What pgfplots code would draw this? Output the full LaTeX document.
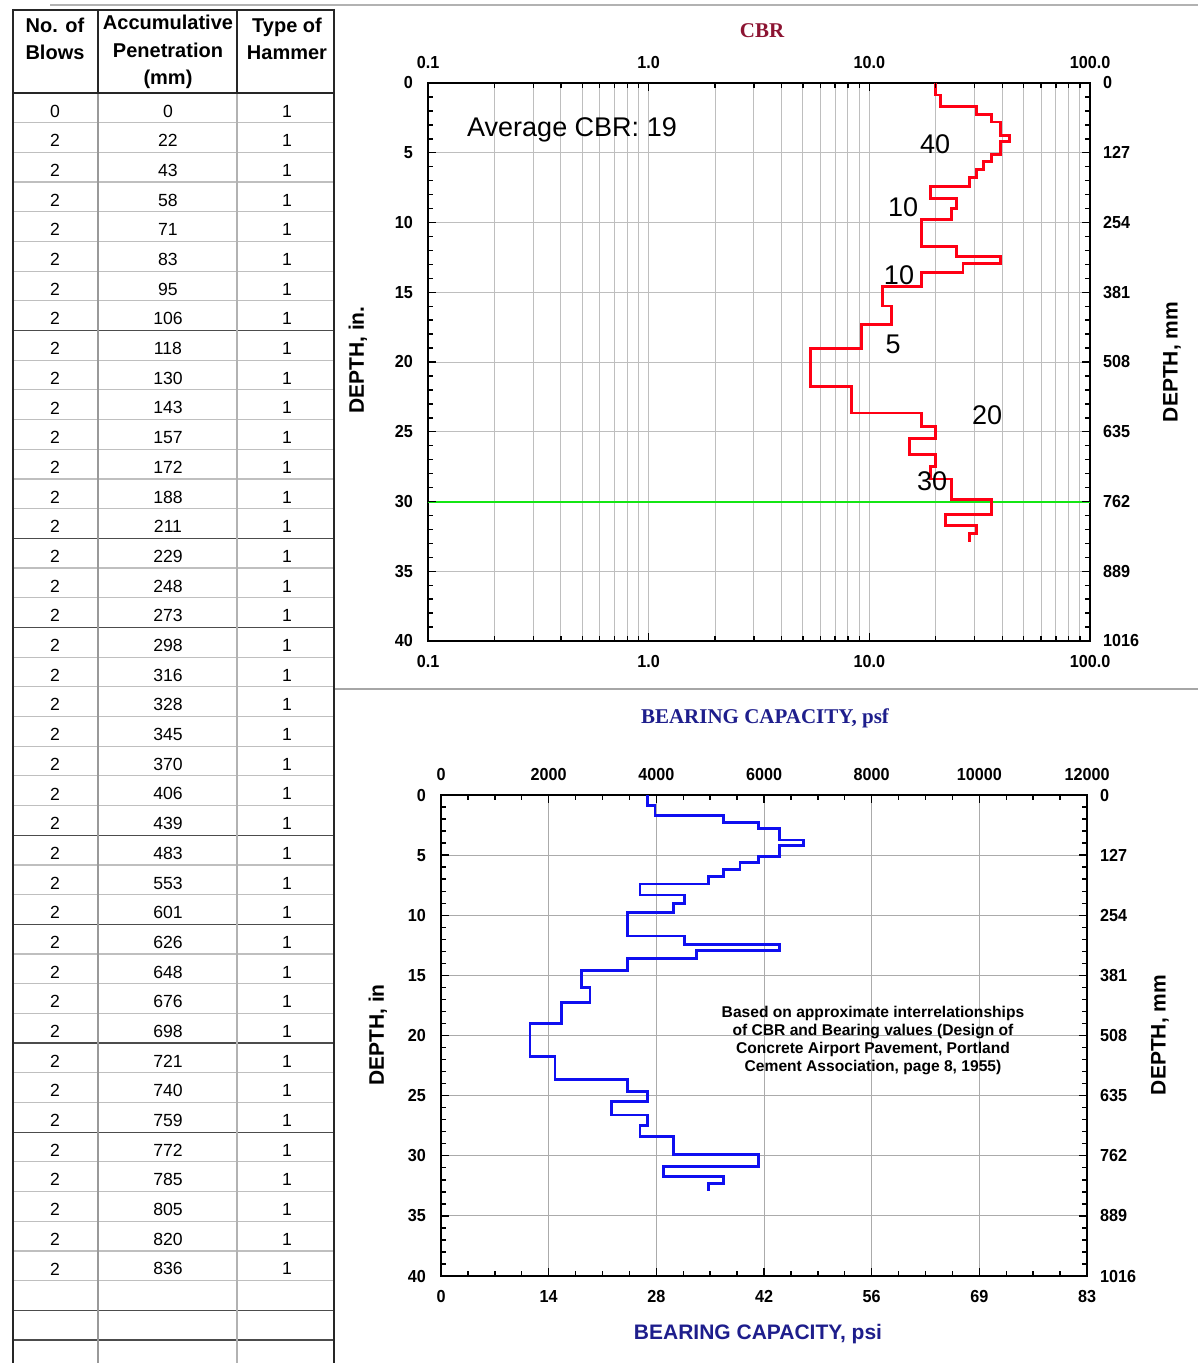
\documentclass[border=0pt]{standalone}
\usepackage{pgfplots}
\pgfplotsset{compat=1.18}
\usepackage{fontspec}
\setmainfont{Liberation Sans}
\newfontfamily\tickfont[FakeStretch=0.93]{Liberation Sans}
\newfontfamily\titleserif{Liberation Serif}
\definecolor{cbrtitle}{RGB}{140,20,50}
\definecolor{navy}{RGB}{30,30,140}
\definecolor{gridgray}{RGB}{190,190,190}
\definecolor{cbrred}{RGB}{255,0,20}
\definecolor{bcblue}{RGB}{15,15,240}
\definecolor{lgreen}{RGB}{20,230,20}
\pgfplotsset{
  depthaxis/.style={scale only axis, anchor=north west, y dir=reverse,
    ymin=0, ymax=40, ytick={0,5,...,40},
    axis line style={line width=1.4pt},
    tick style={black, line width=0.7pt},
    major tick length=4pt, minor tick length=2.5pt,
    tick label style={font=\tickfont\bfseries\fontsize{8.7}{9}\selectfont},
    scaled ticks=false},
  lowleft/.style={xticklabel pos=lower, yticklabel pos=left,
    xticklabel style={yshift=-3.5pt}, yticklabel style={xshift=-4pt}},
  upright/.style={xticklabel pos=upper, yticklabel pos=right,
    xticklabel style={yshift=3.5pt}, yticklabel style={xshift=3pt}},
}
\begin{document}
\begin{tikzpicture}
\useasboundingbox (0,0) rectangle (599pt,-681.5pt);

% ---------------- CBR chart ----------------
\begin{axis}[depthaxis, lowleft, at={(214pt,-41.5pt)}, width=331pt, height=279pt,
  xmode=log, xmin=0.1, xmax=100, xtick={0.1,1,10,100},
  xticklabels={0.1,1.0,10.0,100.0},
  yticklabels={0,5,10,15,20,25,30,35,40}, minor y tick num=4,
  xmajorgrids, xminorgrids, ymajorgrids,
  major grid style={gridgray, line width=0.5pt},
  minor grid style={gridgray, line width=0.5pt}]
\addplot[lgreen, line width=1pt] coordinates {(0.1,30) (100,30)};
\addplot[cbrred, line width=1.4pt] coordinates {
(19.9,0) (19.9,0.866) (21.0,0.866) (21.0,1.693) (30.6,1.693) (30.6,2.283) (35.9,2.283) (35.9,2.795) (39.3,2.795) (39.3,3.740) (43.3,3.740) (43.3,4.173) (39.3,4.173) (39.3,5.118) (35.9,5.118) (35.9,5.630) (33.0,5.630) (33.0,6.181) (30.6,6.181) (30.6,6.772) (28.4,6.772) (28.4,7.402) (18.9,7.402) (18.9,8.307) (24.9,8.307) (24.9,9.016) (23.5,9.016) (23.5,9.764) (17.3,9.764) (17.3,11.732) (24.9,11.732) (24.9,12.441) (39.3,12.441) (39.3,12.913) (26.6,12.913) (26.6,13.583) (17.3,13.583) (17.3,14.567) (11.5,14.567) (11.5,15.984) (12.6,15.984) (12.6,17.283) (9.2,17.283) (9.2,19.016) (5.4,19.016) (5.4,21.772) (8.3,21.772) (8.3,23.661) (17.3,23.661) (17.3,24.646) (19.9,24.646) (19.9,25.512) (15.2,25.512) (15.2,26.614) (19.9,26.614) (19.9,27.480) (18.9,27.480) (18.9,28.386) (23.5,28.386) (23.5,29.882) (35.9,29.882) (35.9,30.906) (22.2,30.906) (22.2,31.693) (30.6,31.693) (30.6,32.283) (28.4,32.283) (28.4,32.913)};
\end{axis}
\begin{axis}[depthaxis, upright, at={(214pt,-41.5pt)}, width=331pt, height=279pt,
  xmode=log, xmin=0.1, xmax=100, xtick={0.1,1,10,100},
  xticklabels={0.1,1.0,10.0,100.0},
  yticklabels={0,127,254,381,508,635,762,889,1016}, minor y tick num=4,
  axis line style={draw=none}, minor x tick num=0]
\end{axis}

% ---------------- Bearing chart ----------------
\begin{axis}[depthaxis, lowleft, at={(220.5pt,-397.5pt)}, width=323pt, height=240.5pt,
  xmin=0, xmax=12000, xtick={0,2000,...,12000},
  xticklabels={0,14,28,42,56,69,83},
  yticklabels={0,5,10,15,20,25,30,35,40}, minor y tick num=4, minor x tick num=3,
  xmajorgrids, ymajorgrids,
  major grid style={gridgray!90!black, line width=0.5pt}]
\addplot[bcblue, line width=1.4pt] coordinates {
(3830,0) (3830,0.866) (3975,0.866) (3975,1.693) (5244,1.693) (5244,2.283) (5894,2.283) (5894,2.795) (6285,2.795) (6285,3.740) (6730,3.740) (6730,4.173) (6285,4.173) (6285,5.118) (5894,5.118) (5894,5.630) (5554,5.630) (5554,6.181) (5244,6.181) (5244,6.772) (4966,6.772) (4966,7.402) (3697,7.402) (3697,8.307) (4520,8.307) (4520,9.016) (4315,9.016) (4315,9.764) (3465,9.764) (3465,11.732) (4520,11.732) (4520,12.441) (6285,12.441) (6285,12.913) (4750,12.913) (4750,13.583) (3465,13.583) (3465,14.567) (2614,14.567) (2614,15.984) (2768,15.984) (2768,17.283) (2242,17.283) (2242,19.016) (1653,19.016) (1653,21.772) (2118,21.772) (2118,23.661) (3465,23.661) (3465,24.646) (3830,24.646) (3830,25.512) (3171,25.512) (3171,26.614) (3830,26.614) (3830,27.480) (3697,27.480) (3697,28.386) (4315,28.386) (4315,29.882) (5894,29.882) (5894,30.906) (4130,30.906) (4130,31.693) (5244,31.693) (5244,32.283) (4966,32.283) (4966,32.913)};
\end{axis}
\begin{axis}[depthaxis, upright, at={(220.5pt,-397.5pt)}, width=323pt, height=240.5pt,
  xmin=0, xmax=12000, xtick={0,2000,...,12000},
  xticklabels={0,2000,4000,6000,8000,10000,12000},
  yticklabels={0,127,254,381,508,635,762,889,1016}, minor y tick num=4, minor x tick num=3,
  axis line style={draw=none}]
\end{axis}

% ---------------- free text, table, rules (pixel coordinates) ----------------
\begin{scope}[x=0.5pt, y=-0.5pt]
% page rules
\draw[black!30, line width=0.7pt] (50,5) -- (1198,5);
\draw[black!35, line width=1pt] (335,689) -- (1198,689);
% CBR chart texts
\node[font=\titleserif\bfseries\fontsize{10.5}{12}\selectfont, text=cbrtitle] at (762,31) {CBR};
\node[rotate=90, font=\bfseries\fontsize{10.5}{12}\selectfont] at (358,360) {DEPTH, in.};
\node[rotate=90, font=\bfseries\fontsize{10.5}{12}\selectfont] at (1172,362) {DEPTH, mm};
\begin{scope}[every node/.style={font=\fontsize{13.5}{15}\selectfont}]
\node at (572,130) {Average CBR: 19};
\node at (935,144) {40};
\node at (903,207) {10};
\node at (899,275) {10};
\node at (893,344) {5};
\node at (987,415) {20};
\node at (932,481) {30};
\end{scope}
% Bearing chart texts
\node[font=\titleserif\bfseries\fontsize{10.5}{12}\selectfont, text=navy] at (765,718) {BEARING CAPACITY, psf};
\node[rotate=90, font=\bfseries\fontsize{10.5}{12}\selectfont] at (378,1035) {DEPTH, in};
\node[rotate=90, font=\bfseries\fontsize{10.5}{12}\selectfont] at (1160,1035) {DEPTH, mm};
\node[font=\bfseries\fontsize{10.5}{12}\selectfont, text=navy] at (758,1334) {BEARING CAPACITY, psi};
\node[align=center, font=\bfseries\fontsize{7.8}{9}\selectfont] at (873,1040)
  {Based on approximate interrelationships\\ of CBR and Bearing values (Design of\\ Concrete Airport Pavement, Portland\\ Cement Association, page 8, 1955)};
% table grid
\foreach \k in {1,...,42} {\draw[black!25, line width=0.6pt] (13,{93+29.69*\k}) -- (334,{93+29.69*\k});}
\foreach \k in {8,15,18,25,28,32,35,41,42} {\draw[black!70, line width=0.6pt] (13,{93+29.69*\k}) -- (334,{93+29.69*\k});}
\draw[black!40, line width=0.7pt] (98,93) -- (98,1363);
\draw[black!30, line width=0.7pt] (237,93) -- (237,1363);
\draw[black!85, line width=0.8pt] (98,10) -- (98,93);
\draw[black!85, line width=0.8pt] (237,10) -- (237,93);
\draw[black!85, line width=0.9pt] (13,10) -- (334,10);
\draw[black!85, line width=0.9pt] (13,93) -- (334,93);
\draw[black!85, line width=1.4pt] (13,9) -- (13,1363);
\draw[black!85, line width=1pt] (334,9) -- (334,1363);
% table header
\begin{scope}[every node/.style={font=\bfseries\fontsize{10}{13.75}\selectfont, align=center}]
\node at (55,39) {No. of\\ Blows};
\node at (168,52) {Accumulative\\ Penetration\\ (mm)};
\node at (287,39) {Type of\\ Hammer};
\end{scope}
% table body
\begin{scope}[every node/.style={font=\fontsize{8.8}{10}\selectfont}]
\foreach \b [count=\i from 0] in {0,2,2,2,2,2,2,2,2,2,2,2,2,2,2,2,2,2,2,2,2,2,2,2,2,2,2,2,2,2,2,2,2,2,2,2,2,2,2,2}
  {\node at (55,{111+29.69*\i}) {\b};}
\foreach \v [count=\i from 0] in {0,22,43,58,71,83,95,106,118,130,143,157,172,188,211,229,248,273,298,316,328,345,370,406,439,483,553,601,626,648,676,698,721,740,759,772,785,805,820,836}
  {\node at (168,{111+29.69*\i}) {\v}; \node at (287,{111+29.69*\i}) {1};}
\end{scope}
\end{scope}
\end{tikzpicture}
\end{document}
